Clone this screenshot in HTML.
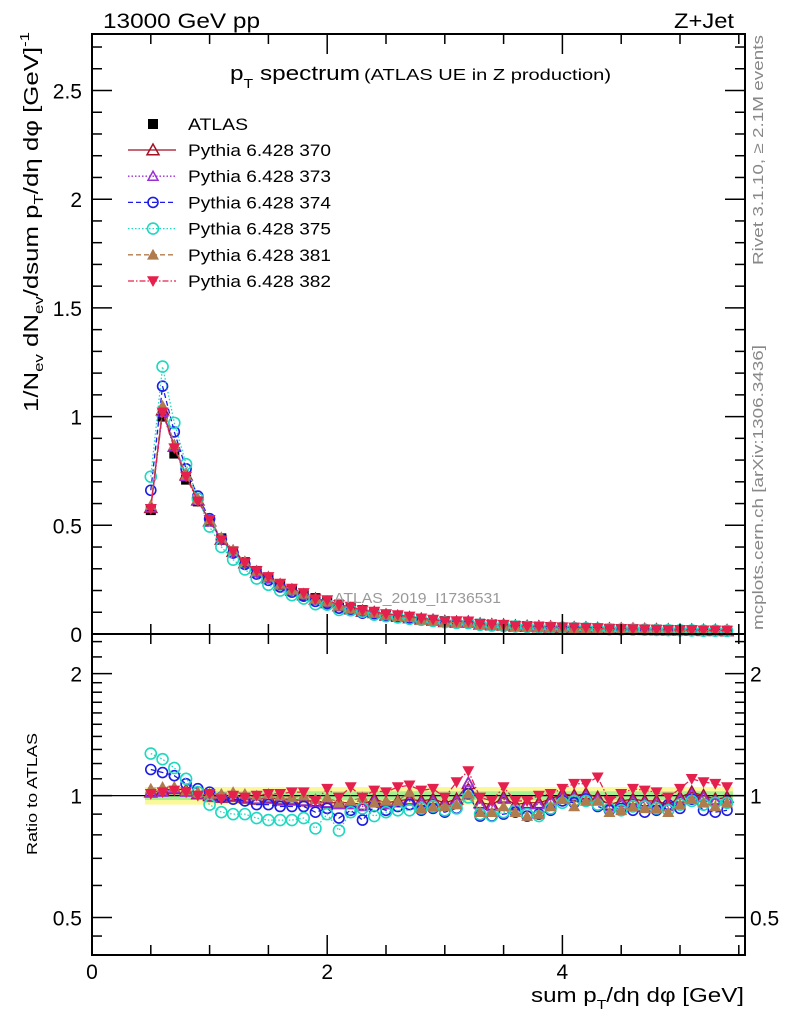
<!DOCTYPE html>
<html><head><meta charset="utf-8"><style>
body{margin:0;background:#fff}
svg{display:block;font-family:"Liberation Sans",sans-serif}
</style></head><body>
<svg id="chart" width="786" height="1024" viewBox="0 0 786 1024">
<g id="bands"></g>
<g id="series"></g>
<g id="axes"></g>
<g id="labels">
<text x="103" y="28" font-size="21" textLength="157" lengthAdjust="spacingAndGlyphs">13000 GeV pp</text>
<text x="674" y="28" font-size="21" textLength="60" lengthAdjust="spacingAndGlyphs">Z+Jet</text>
<text x="230" y="80" font-size="20" textLength="130" lengthAdjust="spacingAndGlyphs">p<tspan font-size="13" dy="8">T</tspan><tspan dy="-8"> spectrum</tspan></text>
<text x="364" y="80" font-size="16" textLength="247" lengthAdjust="spacingAndGlyphs">(ATLAS UE in Z production)</text>
<text x="334" y="603" font-size="15" fill="#999" textLength="167" lengthAdjust="spacingAndGlyphs">ATLAS_2019_I1736531</text>
<text transform="translate(763,265) rotate(-90)" font-size="15" fill="#888" textLength="230" lengthAdjust="spacingAndGlyphs">Rivet 3.1.10, ≥ 2.1M events</text>
<text transform="translate(763,630) rotate(-90)" font-size="15" fill="#888" textLength="285" lengthAdjust="spacingAndGlyphs">mcplots.cern.ch [arXiv:1306.3436]</text>
<text transform="translate(38,412) rotate(-90)" font-size="20" textLength="380" lengthAdjust="spacingAndGlyphs">1/N<tspan font-size="13" dy="5">ev</tspan><tspan dy="-5"> dN</tspan><tspan font-size="13" dy="5">ev</tspan><tspan dy="-5">/dsum p</tspan><tspan font-size="13" dy="5">T</tspan><tspan dy="-5">/dη dφ  [GeV]</tspan><tspan font-size="13" dy="-9">-1</tspan></text>
<text transform="translate(37,855) rotate(-90)" font-size="15" textLength="122" lengthAdjust="spacingAndGlyphs">Ratio to ATLAS</text>
<text x="531" y="1002" font-size="20" textLength="213" lengthAdjust="spacingAndGlyphs">sum p<tspan font-size="13" dy="7">T</tspan><tspan dy="-7">/dη dφ [GeV]</tspan></text>
</g>
<g id="legend"></g>
</svg>
<script>
const xs=[0.5,0.6,0.7,0.8,0.9,1.0,1.1,1.2,1.3,1.4,1.5,1.6,1.7,1.8,1.9,2.0,2.1,2.2,2.3,2.4,2.5,2.6,2.7,2.8,2.9,3.0,3.1,3.2,3.3,3.4,3.5,3.6,3.7,3.8,3.9,4.0,4.1,4.2,4.3,4.4,4.5,4.6,4.7,4.8,4.9,5.0,5.1,5.2,5.3,5.4];
const atlas=[0.57,1.00,0.83,0.71,0.61,0.52,0.44,0.38,0.33,0.29,0.26,0.23,0.205,0.185,0.165,0.15,0.135,0.12,0.11,0.10,0.09,0.083,0.076,0.07,0.064,0.059,0.055,0.051,0.047,0.044,0.041,0.038,0.036,0.034,0.032,0.030,0.028,0.027,0.025,0.024,0.023,0.022,0.021,0.020,0.019,0.018,0.017,0.016,0.016,0.015];
const r370=[1.02,1.03,1.04,1.03,1.01,1.00,0.99,1.00,0.99,0.98,0.99,0.98,0.98,0.97,0.97,0.96,0.96,0.96,0.95,0.98,0.96,0.97,0.98,0.97,0.98,0.96,0.98,1.07,0.96,0.95,0.99,0.95,0.96,0.96,0.98,1.01,1.00,1.01,0.99,0.95,0.97,0.98,0.97,0.97,0.95,0.99,1.02,1.00,0.98,0.99];
const r373=[1.02,1.02,1.04,1.02,1.01,0.99,0.99,0.99,0.98,0.98,0.98,0.97,0.97,0.97,0.96,0.96,0.95,0.95,0.94,0.97,0.95,0.96,0.97,0.96,0.97,0.95,0.97,1.08,0.95,0.94,0.98,0.94,0.95,0.95,0.97,1.00,0.99,1.00,0.98,0.94,0.96,0.97,0.96,0.96,0.94,0.98,1.01,0.99,0.97,0.98];
const r374=[1.16,1.14,1.12,1.07,1.04,1.02,0.99,0.98,0.97,0.95,0.95,0.94,0.94,0.94,0.91,0.93,0.88,0.92,0.87,0.94,0.92,0.94,0.95,0.92,0.93,0.91,0.93,1.01,0.89,0.89,0.90,0.91,0.89,0.90,0.92,0.97,0.96,0.98,0.94,0.92,0.93,0.92,0.91,0.92,0.95,0.93,0.98,0.92,0.91,0.92];
const r375=[1.27,1.23,1.17,1.10,1.02,0.95,0.91,0.90,0.90,0.88,0.87,0.87,0.87,0.88,0.83,0.90,0.82,0.91,0.93,0.89,0.91,0.92,0.92,0.93,0.94,0.92,0.93,0.99,0.90,0.89,0.91,0.92,0.90,0.89,0.93,0.96,0.97,0.97,0.95,0.93,0.92,0.94,0.94,0.93,0.92,0.95,0.97,0.95,0.96,0.96];
const r381=[1.04,1.05,1.05,1.03,1.02,1.01,1.01,1.02,1.01,1.00,1.01,1.00,0.99,1.00,0.98,0.99,0.96,0.97,0.99,0.96,0.97,0.97,1.02,0.93,0.94,0.94,0.95,1.01,0.91,0.91,0.94,0.91,0.89,0.90,0.94,0.98,0.94,0.97,0.97,0.91,0.92,0.94,0.93,0.93,0.91,0.95,0.98,0.96,0.94,0.96];
const r382=[1.01,1.02,1.03,1.02,1.00,1.01,0.98,1.00,0.99,1.00,1.01,1.01,1.02,1.02,0.97,1.04,0.99,1.05,0.99,1.03,1.02,1.05,1.06,1.03,1.04,0.99,1.08,1.15,0.99,0.97,1.05,0.97,0.97,1.00,1.01,1.04,1.07,1.07,1.11,0.97,1.01,1.04,1.03,1.02,0.99,1.04,1.10,1.08,1.07,1.05];
const yTicks=["0","0.5","1","1.5","2","2.5"];
const rTicks=["0.5","1","2"];
const xTicks=["0","2","4"];

const NS="http://www.w3.org/2000/svg";
const X0=92,XS=117.6,XR=745,TOP=34,MB=634,RB=955;
const sx=v=>X0+v*XS;
const sy=v=>MB-v*217.4;
const sr=v=>795.6-405*Math.log10(v);
function mk(parent,tag,attrs){const e=document.createElementNS(NS,tag);for(const k in attrs)e.setAttribute(k,attrs[k]);parent.appendChild(e);return e;}
const gB=document.getElementById('bands'),gS=document.getElementById('series'),gA=document.getElementById('axes'),gL=document.getElementById('legend');

const by=mk(gB,'rect',{x:sx(0.45),y:sr(1.05),width:sx(5.45)-sx(0.45),height:sr(0.95)-sr(1.05),fill:'#fbf89a'});


const bg=mk(gB,'rect',{x:sx(0.45),y:sr(1.025),width:sx(5.45)-sx(0.45),height:sr(0.975)-sr(1.025),fill:'#a6f08f'});



function marker(g,type,color,x,y,s){
  if(type==='sq')return mk(g,'rect',{x:x-5,y:y-5,width:10,height:10,fill:'#000'});
  if(type==='tri-open')return mk(g,'polygon',{points:`${x},${y-s} ${x-s},${y+s*0.8} ${x+s},${y+s*0.8}`,fill:'none',stroke:color,'stroke-width':1.5});
  if(type==='tri-fill')return mk(g,'polygon',{points:`${x},${y-s} ${x-s},${y+s*0.8} ${x+s},${y+s*0.8}`,fill:color});
  if(type==='tri-down')return mk(g,'polygon',{points:`${x},${y+s} ${x-s},${y-s*0.8} ${x+s},${y-s*0.8}`,fill:color});
  if(type==='circ')return mk(g,'circle',{cx:x,cy:y,r:s,fill:'none',stroke:color,'stroke-width':1.6});
}
const series=[
 {name:'Pythia 6.428 370',key:'370',r:r370,color:'#a50f22',dash:'',type:'tri-open',s:6},
 {name:'Pythia 6.428 373',key:'373',r:r373,color:'#9b2fd6',dash:'1.5,2',type:'tri-open',s:5},
 {name:'Pythia 6.428 374',key:'374',r:r374,color:'#1c1ce6',dash:'5,3',type:'circ',s:5},
 {name:'Pythia 6.428 375',key:'375',r:r375,color:'#1ed8c0',dash:'1.5,2',type:'circ',s:5.5},
 {name:'Pythia 6.428 381',key:'381',r:r381,color:'#b07c4e',dash:'5,3',type:'tri-fill',s:6},
 {name:'Pythia 6.428 382',key:'382',r:r382,color:'#e6204c',dash:'6,2,1.5,2',type:'tri-down',s:6}
];
const rl=mk(gS,'line',{x1:X0,x2:XR,y1:sr(1),y2:sr(1),stroke:'#000','stroke-width':1.2});


const gd=mk(gS,'g',{});


atlas.forEach((v,i)=>{const m=marker(gd,'sq','#000',sx(xs[i]),sy(v),5);

});
series.forEach(se=>{
  const g=mk(gS,'g',{});
  
  
  const ptsM=xs.map((x,i)=>`${sx(x)},${sy(atlas[i]*se.r[i])}`).join(' ');
  const ptsR=xs.map((x,i)=>`${sx(x)},${sr(se.r[i])}`).join(' ');
  const l1=mk(g,'polyline',{points:ptsM,fill:'none',stroke:se.color,'stroke-width':1.3,'stroke-dasharray':se.dash});
  
  
  const l2=mk(g,'polyline',{points:ptsR,fill:'none',stroke:se.color,'stroke-width':1.3,'stroke-dasharray':se.dash});
  
  
  xs.forEach((x,i)=>{
    const a=marker(g,se.type,se.color,sx(x),sy(atlas[i]*se.r[i]),se.s);
    
    
    const b=marker(g,se.type,se.color,sx(x),sr(se.r[i]),se.s);
    
    
  });
});
const f1=mk(gA,'rect',{x:X0,y:TOP,width:XR-X0,height:MB-TOP,fill:'none',stroke:'#000','stroke-width':2});


const f2=mk(gA,'rect',{x:X0,y:MB,width:XR-X0,height:RB-MB,fill:'none',stroke:'#000','stroke-width':2});


function tick(x1,y1,x2,y2){mk(gA,'line',{x1,y1,x2,y2,stroke:'#000','stroke-width':1.5});}
for(let i=0;i<=27;i++){const y=sy(i*0.1);const L=(i%5===0)?20:10;tick(X0,y,X0+L,y);tick(XR,y,XR-L,y);}
yTicks.forEach(t=>{const e=mk(gA,'text',{x:X0-10,y:sy(+t)+8,'font-size':21,'text-anchor':'end'});e.textContent=t;

});
for(let i=0;i*0.5<=5.55;i++){const x=sx(i*0.5);const L=(i%4===0)?20:10;
 tick(x,MB,x,MB-L);tick(x,TOP,x,TOP+L);tick(x,RB,x,RB-L);tick(x,MB,x,MB+L);}
xTicks.forEach(t=>{const e=mk(gA,'text',{x:sx(+t),y:979,'font-size':21,'text-anchor':'middle'});e.textContent=t;

});
[0.45,0.6,0.7,0.8,0.9,1.1,1.2,1.3,1.4,1.5,1.6,1.7,1.8,1.9,2.2,2.4].forEach(v=>{const y=sr(v);if(y<MB||y>RB)return;tick(X0,y,X0+10,y);tick(XR,y,XR-10,y);});
rTicks.forEach(t=>{const y=sr(+t);tick(X0,y,X0+20,y);tick(XR,y,XR-20,y);
 const e=mk(gA,'text',{x:X0-10,y:y+8,'font-size':21,'text-anchor':'end'});e.textContent=t;
 
 
 const e2=mk(gA,'text',{x:XR+5,y:y+8,'font-size':21});e2.textContent=t;
 
 });
const la=mk(gL,'g',{});


marker(la,'sq','#000',153,124,5);
const lt=mk(la,'text',{x:188,y:130,'font-size':17,textLength:60,lengthAdjust:'spacingAndGlyphs'});lt.textContent='ATLAS';
series.forEach((se,i)=>{
  const y=150+i*26.2;
  const g=mk(gL,'g',{});
  
  
  mk(g,'line',{x1:128,x2:176,y1:y,y2:y,stroke:se.color,'stroke-width':1.3,'stroke-dasharray':se.dash});
  marker(g,se.type,se.color,153,y,se.s);
  const t=mk(g,'text',{x:188,y:y+6,'font-size':17,textLength:143,lengthAdjust:'spacingAndGlyphs'});t.textContent=se.name;
});
</script>
</body></html>
